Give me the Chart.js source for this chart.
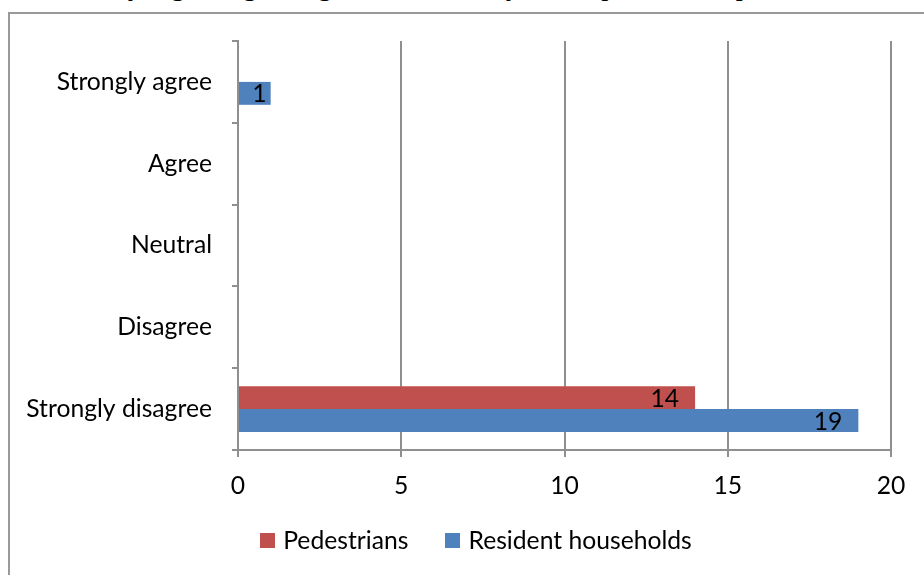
<!DOCTYPE html>
<html>
<head>
<meta charset="utf-8">
<script src="https://cdn.jsdelivr.net/npm/chart.js@4.4.1/dist/chart.umd.min.js"></script>
<style>
  html, body { margin: 0; padding: 0; background: #fff; overflow: hidden; }
  #wrap { position: relative; width: 924px; height: 575px; overflow: hidden; }
  #caption { position: absolute; left: -14px; top: -28px; white-space: nowrap;
    font-family: "Liberation Serif", serif; font-size: 28.2px; line-height: 28.2px; color: #000; }
  #frame { position: absolute; left: 8px; top: 12px; width: 1000px; height: 1000px;
    border: 2px solid #999; box-sizing: border-box; }
  #chart { position: absolute; left: 0; top: 0; }
  #legend { position: absolute; left: 0; width: 952px; top: 526px; display: flex;
    justify-content: center; gap: 37px; font-family: Lato, sans-serif; font-size: 24.7px; line-height: 28px; }
  #legend .item { display: flex; align-items: center; }
  #legend .box { width: 15px; height: 15px; margin-right: 8px; }
</style>
</head>
<body>
<div id="wrap">
  <div id="caption">The summary regarding the agreement level by the respondents is presented</div>
  <div id="frame"></div>
  <canvas id="chart" width="924" height="575"></canvas>
  <div id="legend"></div>
</div>
<script>
const categories = ['Strongly agree', 'Agree', 'Neutral', 'Disagree', 'Strongly disagree'];
const pedestrians = [0, 0, 0, 0, 14];
const residentHouseholds = [1, 0, 0, 0, 19];
const xTicks = [0, 5, 10, 15, 20];

const tickFont = { family: 'Lato', size: 24.7 };
const axisGray = '#8f8f8f';

// value labels drawn inside the end of each bar
const barLabels = {
  id: 'barLabels',
  afterDatasetsDraw(chart) {
    const ctx = chart.ctx;
    ctx.save();
    ctx.font = '24.7px Lato';
    ctx.fillStyle = '#000';
    ctx.textAlign = 'right';
    ctx.textBaseline = 'middle';
    chart.data.datasets.forEach((ds, i) => {
      chart.getDatasetMeta(i).data.forEach((bar, j) => {
        const v = ds.data[j];
        if (!v) return;
        const txt = String(v);
        const w = ctx.measureText(txt).width;
        let x = bar.x - 16;
        if (x - w < bar.base + 4) x = bar.x - 4;
        ctx.fillText(txt, x, bar.y + 1);
      });
    });
    ctx.restore();
  }
};

const chart = new Chart(document.getElementById('chart'), {
  type: 'bar',
  data: {
    labels: categories,
    datasets: [{
      label: 'Pedestrians',
      data: pedestrians,
      backgroundColor: '#C0504D'
    }, {
      label: 'Resident households',
      data: residentHouseholds,
      backgroundColor: '#4F81BD'
    }]
  },
  options: {
    indexAxis: 'y',
    responsive: false,
    animation: false,
    categoryPercentage: 0.56,
    barPercentage: 1,
    layout: { padding: { top: 41, right: 33, left: 0, bottom: 0 } },
    plugins: {
      legend: { display: false },
      tooltip: { enabled: false }
    },
    scales: {
      x: {
        min: xTicks[0],
        max: xTicks[xTicks.length - 1],
        afterBuildTicks: (s) => { s.ticks = xTicks.map(v => ({ value: v })); },
        afterFit: (s) => { s.height = 125; },
        ticks: { font: tickFont, color: '#000', padding: 14 },
        grid: { color: axisGray, lineWidth: 2, tickLength: 7 },
        border: { color: axisGray, width: 2 }
      },
      y: {
        afterFit: (s) => { s.width = 238; },
        ticks: { font: tickFont, color: '#000', padding: 20 },
        grid: { drawOnChartArea: false, color: axisGray, lineWidth: 2, tickLength: 6, offset: true },
        border: { color: axisGray, width: 2 }
      }
    }
  },
  plugins: [barLabels]
});

// legend as html, built from the datasets
const legend = document.getElementById('legend');
chart.data.datasets.forEach(ds => {
  const item = document.createElement('div');
  item.className = 'item';
  const box = document.createElement('span');
  box.className = 'box';
  box.style.background = ds.backgroundColor;
  item.appendChild(box);
  item.appendChild(document.createTextNode(ds.label));
  legend.appendChild(item);
});
</script>
</body>
</html>
